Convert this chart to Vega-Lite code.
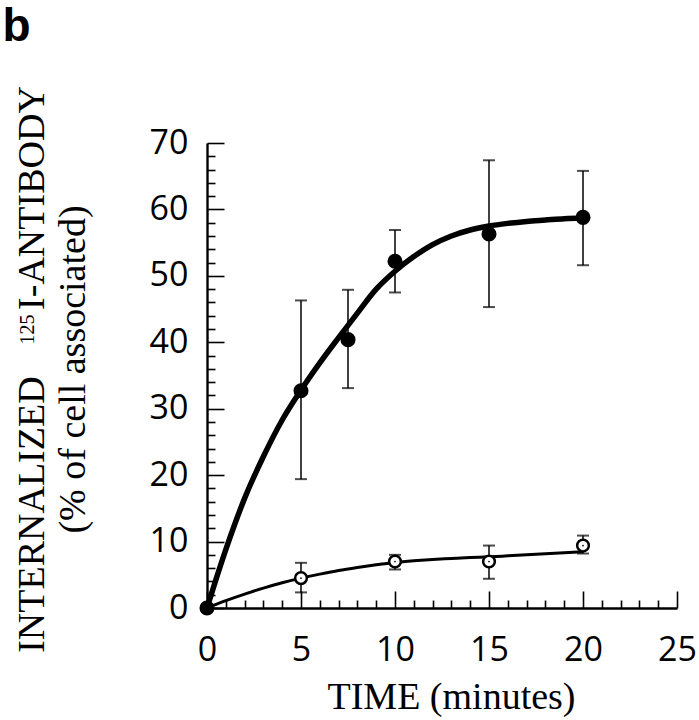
{
  "$schema": "https://vega.github.io/schema/vega-lite/v6.json",
  "width": 470,
  "height": 465,
  "autosize": {"type": "none"},
  "padding": {"left": 207, "top": 143, "right": 22, "bottom": 112},
  "background": "white",
  "config": {
    "view": {"stroke": null},
    "axis": {"grid": false}
  },
  "resolve": {"axis": {"x": "independent", "y": "independent"}},
  "datasets": {
    "points": [
      {"time": 0, "value": 0, "series": "open", "lo": null, "hi": null},
      {"time": 5, "value": 4.5, "series": "open", "lo": 2.35, "hi": 6.8},
      {"time": 10, "value": 7.0, "series": "open", "lo": 5.8, "hi": 8.0},
      {"time": 15, "value": 7.0, "series": "open", "lo": 4.4, "hi": 9.4},
      {"time": 20, "value": 9.4, "series": "open", "lo": 8.2, "hi": 10.9},
      {"time": 0, "value": 0, "series": "filled", "lo": null, "hi": null},
      {"time": 5, "value": 32.7, "series": "filled", "lo": 19.4, "hi": 46.3},
      {"time": 7.5, "value": 40.4, "series": "filled", "lo": 33.1, "hi": 47.9},
      {"time": 10, "value": 52.2, "series": "filled", "lo": 47.5, "hi": 56.9},
      {"time": 15, "value": 56.3, "series": "filled", "lo": 45.3, "hi": 67.4},
      {"time": 20, "value": 58.8, "series": "filled", "lo": 51.6, "hi": 65.8}
    ],
    "fit": [
      {"time": 0, "value": 0, "series": "filled"},
      {"time": 0.5, "value": 4.5, "series": "filled"},
      {"time": 1, "value": 8.8, "series": "filled"},
      {"time": 1.5, "value": 12.8, "series": "filled"},
      {"time": 2, "value": 16.5, "series": "filled"},
      {"time": 3, "value": 22.8, "series": "filled"},
      {"time": 4, "value": 28.3, "series": "filled"},
      {"time": 5, "value": 32.8, "series": "filled"},
      {"time": 6, "value": 36.9, "series": "filled"},
      {"time": 7, "value": 40.7, "series": "filled"},
      {"time": 8, "value": 44.4, "series": "filled"},
      {"time": 9, "value": 48.0, "series": "filled"},
      {"time": 10, "value": 50.7, "series": "filled"},
      {"time": 11, "value": 52.9, "series": "filled"},
      {"time": 12, "value": 54.7, "series": "filled"},
      {"time": 13, "value": 56.0, "series": "filled"},
      {"time": 14, "value": 56.9, "series": "filled"},
      {"time": 15, "value": 57.5, "series": "filled"},
      {"time": 16, "value": 57.9, "series": "filled"},
      {"time": 17, "value": 58.2, "series": "filled"},
      {"time": 18, "value": 58.4, "series": "filled"},
      {"time": 19, "value": 58.6, "series": "filled"},
      {"time": 20, "value": 58.7, "series": "filled"},
      {"time": 0, "value": 0, "series": "open"},
      {"time": 1, "value": 1.1, "series": "open"},
      {"time": 2, "value": 2.1, "series": "open"},
      {"time": 3, "value": 3.0, "series": "open"},
      {"time": 4, "value": 3.8, "series": "open"},
      {"time": 5, "value": 4.5, "series": "open"},
      {"time": 6, "value": 5.1, "series": "open"},
      {"time": 7, "value": 5.65, "series": "open"},
      {"time": 8, "value": 6.1, "series": "open"},
      {"time": 9, "value": 6.5, "series": "open"},
      {"time": 10, "value": 6.85, "series": "open"},
      {"time": 11, "value": 7.1, "series": "open"},
      {"time": 12, "value": 7.3, "series": "open"},
      {"time": 13, "value": 7.45, "series": "open"},
      {"time": 14, "value": 7.6, "series": "open"},
      {"time": 15, "value": 7.7, "series": "open"},
      {"time": 16, "value": 7.85, "series": "open"},
      {"time": 17, "value": 8.0, "series": "open"},
      {"time": 18, "value": 8.15, "series": "open"},
      {"time": 19, "value": 8.3, "series": "open"},
      {"time": 20, "value": 8.45, "series": "open"}
    ]
  },
  "layer": [
    {
      "data": {"name": "fit"},
      "transform": [{"filter": "datum.series === 'filled'"}],
      "mark": {"type": "line", "color": "#000", "strokeWidth": 5.5, "interpolate": "monotone", "strokeCap": "round"},
      "encoding": {
        "x": {
          "field": "time",
          "type": "quantitative",
          "scale": {"domain": [0, 25], "nice": false, "zero": false},
          "axis": {
            "orient": "bottom",
            "title": "TIME (minutes)",
            "titleFont": "Liberation Serif",
            "titleFontSize": 38,
            "titleFontWeight": "normal",
            "titleColor": "#000",
            "titleX": 244,
            "titleY": 100,
            "titleAlign": "center",
            "titleBaseline": "alphabetic",
            "values": [0, 5, 10, 15, 20, 25],
            "labelFont": "Open Sans",
            "labelFontSize": 34,
            "labelColor": "#000",
            "labelFlush": false,
            "labelOverlap": false,
            "labelBound": false,
            "labelPadding": 42,
            "tickSize": -17,
            "tickColor": "#000",
            "tickWidth": 1.6,
            "domainColor": "#000",
            "domainWidth": 2.4
          }
        },
        "y": {
          "field": "value",
          "type": "quantitative",
          "scale": {"domain": [0, 70], "nice": false},
          "axis": {
            "orient": "left",
            "title": ["INTERNALIZED\u00a0\u00a0\u00a0\u00a0\u00a0\u00a0\u00a0I-ANTIBODY", "(% of cell associated)"],
            "titleFont": "Liberation Serif",
            "titleFontSize": 38,
            "titleFontWeight": "normal",
            "titleColor": "#000",
            "titleAngle": -90,
            "titleX": -164,
            "titleY": 226,
            "titleAlign": "center",
            "titleBaseline": "alphabetic",
            "titleLineHeight": 41,
            "titleLimit": 800,
            "values": [0, 10, 20, 30, 40, 50, 60, 70],
            "labelFont": "Open Sans",
            "labelFontSize": 34,
            "labelColor": "#000",
            "labelFlush": false,
            "labelOverlap": false,
            "labelBound": false,
            "labelPadding": 36,
            "tickSize": -17,
            "tickColor": "#000",
            "tickWidth": 1.6,
            "domainColor": "#000",
            "domainWidth": 2.4
          }
        }
      }
    },
    {
      "data": {"name": "fit"},
      "transform": [{"filter": "datum.series === 'open'"}],
      "mark": {"type": "line", "color": "#000", "strokeWidth": 3, "interpolate": "monotone"},
      "encoding": {
        "x": {
          "field": "time",
          "type": "quantitative",
          "axis": {
            "orient": "bottom",
            "title": "b",
            "titleFont": "Liberation Sans",
            "titleFontSize": 46,
            "titleFontWeight": "bold",
            "titleColor": "#000",
            "titleAngle": 0,
            "titleX": -205,
            "titleY": -568,
            "titleAlign": "left",
            "titleBaseline": "alphabetic",
            "values": [1,2,3,4,6,7,8,9,11,12,13,14,16,17,18,19,21,22,23,24],
            "labels": false,
            "domain": false,
            "tickSize": -8,
            "tickColor": "#000",
            "tickWidth": 1.6
          }
        },
        "y": {
          "field": "value",
          "type": "quantitative",
          "axis": {
            "orient": "left",
            "title": "125",
            "titleFont": "Liberation Serif",
            "titleFontSize": 20,
            "titleFontWeight": "normal",
            "titleColor": "#000",
            "titleAngle": -90,
            "titleX": -174,
            "titleY": 186,
            "titleAlign": "center",
            "titleBaseline": "alphabetic",
            "values": [2,4,6,8,12,14,16,18,22,24,26,28,32,34,36,38,42,44,46,48,52,54,56,58,62,64,66,68],
            "labels": false,
            "domain": false,
            "tickSize": -8,
            "tickColor": "#000",
            "tickWidth": 1.6
          }
        }
      }
    },
    {
      "data": {"name": "points"},
      "transform": [{"filter": "isValid(datum.lo)"}],
      "mark": {"type": "rule", "color": "#000", "strokeWidth": 1.5},
      "encoding": {
        "x": {"field": "time", "type": "quantitative", "axis": null},
        "y": {"field": "lo", "type": "quantitative", "axis": null},
        "y2": {"field": "hi"}
      }
    },
    {
      "data": {"name": "points"},
      "transform": [{"filter": "isValid(datum.lo)"}],
      "mark": {"type": "tick", "color": "#000", "orient": "horizontal", "size": 12, "thickness": 2},
      "encoding": {
        "x": {"field": "time", "type": "quantitative", "axis": null},
        "y": {"field": "lo", "type": "quantitative", "axis": null}
      }
    },
    {
      "data": {"name": "points"},
      "transform": [{"filter": "isValid(datum.hi)"}],
      "mark": {"type": "tick", "color": "#000", "orient": "horizontal", "size": 12, "thickness": 2},
      "encoding": {
        "x": {"field": "time", "type": "quantitative", "axis": null},
        "y": {"field": "hi", "type": "quantitative", "axis": null}
      }
    },
    {
      "data": {"name": "points"},
      "transform": [{"filter": "datum.series === 'open'"}],
      "mark": {"type": "point", "shape": "circle", "filled": false, "fill": "white", "fillOpacity": 1, "stroke": "#000", "strokeWidth": 2.5, "opacity": 1, "size": 137},
      "encoding": {
        "x": {"field": "time", "type": "quantitative", "axis": null},
        "y": {"field": "value", "type": "quantitative", "axis": null}
      }
    },
    {
      "data": {"name": "points"},
      "transform": [{"filter": "datum.series === 'open'"}],
      "mark": {"type": "point", "shape": "circle", "filled": true, "color": "#000", "opacity": 1, "size": 3},
      "encoding": {
        "x": {"field": "time", "type": "quantitative", "axis": null},
        "y": {"field": "value", "type": "quantitative", "axis": null}
      }
    },
    {
      "data": {"name": "points"},
      "transform": [{"filter": "datum.series === 'filled'"}],
      "mark": {"type": "point", "shape": "circle", "filled": true, "color": "#000", "opacity": 1, "size": 227},
      "encoding": {
        "x": {"field": "time", "type": "quantitative", "axis": null},
        "y": {"field": "value", "type": "quantitative", "axis": null}
      }
    }
  ]
}
